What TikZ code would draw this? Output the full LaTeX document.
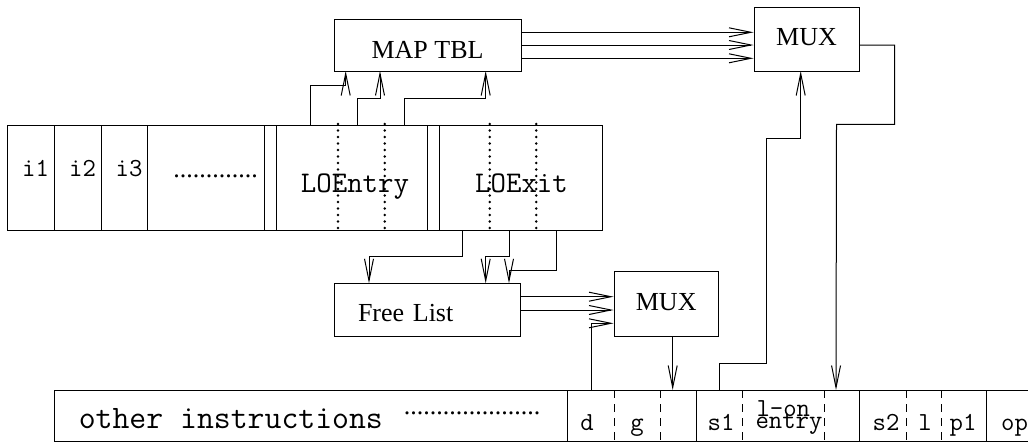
\documentclass[tikz,border=0pt]{standalone}
\usepackage{fontspec}
\setmainfont{Liberation Serif}
\usetikzlibrary{arrows.meta}

\begin{document}
\begin{tikzpicture}[x=0.5pt,y=-0.5pt,line width=0.5pt,
  box/.style={draw=black,inner sep=0pt,font=\fontsize{13}{15}\selectfont},
  arr/.style={-{Straight Barb[length=11pt,width=4.5pt]}},
  cell/.style={inner sep=0pt,anchor=base,font=\ttfamily\fontsize{13}{15}\selectfont},
  field/.style={inner sep=0pt,anchor=base,font=\ttfamily\fontsize{15}{17}\selectfont},
  dots/.style={inner sep=0pt,anchor=base,font=\fontsize{13}{15}\selectfont},
  dotline/.style={line width=1.4pt,line cap=round,dash pattern=on 0pt off 3.25pt},
  dashline/.style={dash pattern=on 4pt off 3pt}]
\useasboundingbox (0,0) rectangle (1028,445);

% boxes
\node[box,minimum width=93.5pt,minimum height=26pt,text height=13.3pt,text depth=0pt] (map) at (427.5,45) {MAP TBL};
\node[box,minimum width=52.5pt,minimum height=32pt,text height=6pt,text depth=0pt] (muxa) at (806.5,39) {MUX};
\node[box,minimum width=93.3pt,minimum height=26.7pt,text height=11.7pt,text depth=0pt,text width=69.3pt,align=left] (free) at (427.3,310) {Free List};
\node[box,minimum width=52.2pt,minimum height=32.7pt,text height=6pt,text depth=0pt] (muxb) at (666.2,304) {MUX};

% loop register
\draw (7.3,125) rectangle (602.7,230.7);
\draw (54.3,125) -- (54.3,230.7);
\draw (101,125) -- (101,230.7);
\draw (147.7,125) -- (147.7,230.7);
\draw (264.3,125) -- (264.3,230.7);
\draw (276,125) -- (276,230.7);
\draw (427.7,125) -- (427.7,230.7);
\draw (439.3,125) -- (439.3,230.7);
\draw[dotline] (338,124) -- (338,231);
\draw[dotline] (384.7,124) -- (384.7,231);
\draw[dotline] (489.7,124) -- (489.7,231);
\draw[dotline] (536.3,124) -- (536.3,231);
\node[cell] (i1) at (35.5,176.7) {i1};
\node[cell] (i2) at (82.5,176.7) {i2};
\node[cell] (i3) at (129,176.7) {i3};
\node[dots] (idots) at (215.5,177) {.............};
\node[field] (loentry) at (355,192) {LOEntry};
\node[field] (loexit) at (521.5,192) {LOExit};

% instruction register
\draw (1028,390) -- (54.3,390) -- (54.3,441.7) -- (1028,441.7);
\draw (567.7,390) -- (567.7,441.7);
\draw (696,390) -- (696,441.7);
\draw (859.3,390) -- (859.3,441.7);
\draw (986.7,390) -- (986.7,441.7);
\draw[dashline] (614,390) -- (614,441.7);
\draw[dashline] (660.7,390) -- (660.7,441.7);
\draw[dashline] (742.7,390) -- (742.7,441.7);
\draw[dashline] (824,390) -- (824,441.7);
\draw[dashline] (906,390) -- (906,441.7);
\draw[dashline] (941,390) -- (941,441.7);
\node[inner sep=0pt,anchor=base west,font=\ttfamily\fontsize{16.4}{18}\selectfont] (other) at (78.3,428.3) {other instructions};
\node[dots] (odots) at (472,414) {.....................};
\node[cell] (d) at (587,430) {d};
\node[cell] (g) at (637,430) {g};
\node[cell] (s1) at (721,430) {s1};
\node[cell,anchor=base west] (lon) at (756,416.7) {l-on};
\node[cell,anchor=base west] (entry) at (755,428) {entry};
\node[cell] (s2) at (886,430) {s2};
\node[cell] (l) at (925,430) {l};
\node[cell] (p1) at (963,430) {p1};
\node[cell,anchor=base west] (op) at (1000.7,430) {op};

% end points
\coordinate (ent1) at (310.7,125);
\coordinate (ent2) at (357.7,125);
\coordinate (ent3) at (404.3,125);
\coordinate (mapin1) at (345.7,71);
\coordinate (mapin2) at (380,71);
\coordinate (mapin3) at (485.7,71);
\coordinate (ext1) at (462.7,230.7);
\coordinate (ext2) at (509.3,230.7);
\coordinate (ext3) at (556,230.7);
\coordinate (freein1) at (369,283.3);
\coordinate (freein2) at (485.7,283.3);
\coordinate (freein3) at (509,283.3);
\coordinate (dout) at (591.7,390);
\coordinate (gin) at (672.7,390);
\coordinate (s1out) at (719.3,390);
\coordinate (muxain) at (800.7,71);
\coordinate (lonin) at (836,390);

% connectors
\draw[arr] (ent1) -- ++(0,-40) -| (mapin1);
\draw[arr] (ent2) -- ++(0,-26.7) -| (mapin2);
\draw[arr] (ent3) -- ++(0,-26.7) -| (mapin3);
\draw[arr] ([yshift=6.35pt]map.east) -- ([yshift=6.35pt]map.east -| muxa.west);
\draw[arr] (map.east) -- (map.east -| muxa.west);
\draw[arr] ([yshift=-6.65pt]map.east) -- ([yshift=-6.65pt]map.east -| muxa.west);
\draw[arr] (ext1) -- ++(0,26) -| (freein1);
\draw[arr] (ext2) -- ++(0,26) -| (freein2);
\draw[arr] (ext3) -- ++(0,40) -| (freein3);
\draw[arr] ([yshift=6.65pt]free.east) -- ([yshift=6.65pt]free.east -| muxb.west);
\draw[arr] (free.east) -- (free.east -| muxb.west);
\draw[arr] (dout) |- ([yshift=-9.65pt]muxb.west);
\draw[arr] (muxb.south -| gin) -- (gin);
\draw[arr] (s1out) -- ++(0,-26.7) -| ++(46.7,-225) -| (muxain);
\draw[arr] ([yshift=-3pt]muxa.east) -- ++(35,0) |- ++(-58,79.3) -- (lonin);
\end{tikzpicture}
\end{document}
